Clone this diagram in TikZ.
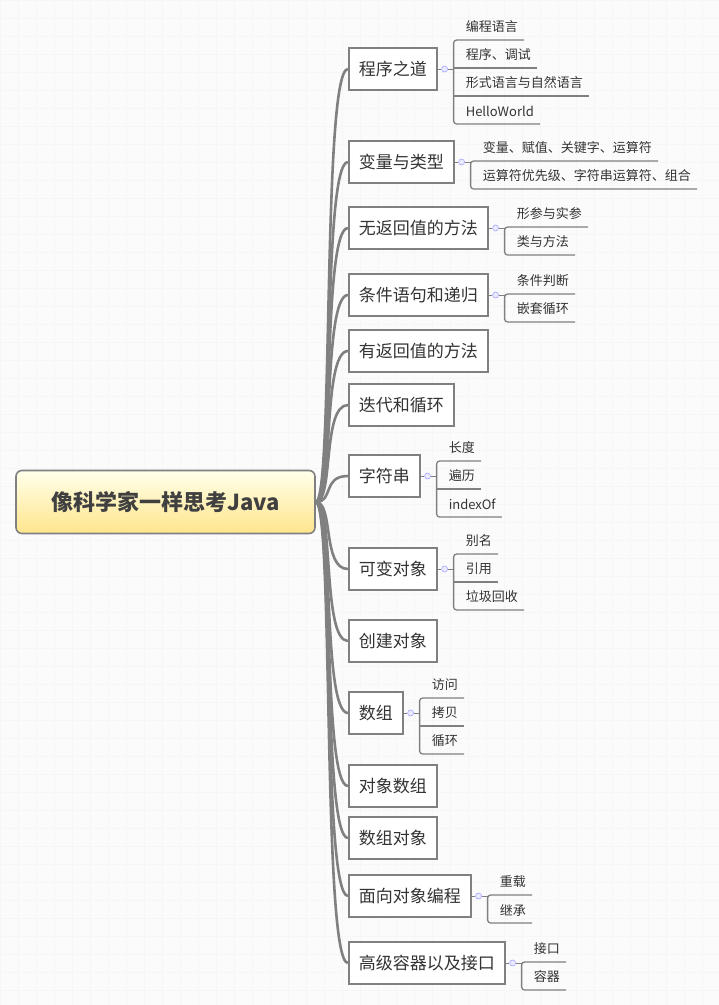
\documentclass[tikz,border=0pt]{standalone}
\usepackage{fontspec}
\setmainfont{Noto Sans CJK SC}
\usetikzlibrary{calc}
\definecolor{lineg}{HTML}{808080}
\definecolor{txt}{HTML}{333333}
\tikzset{
 mainbox/.style={draw=lineg,line width=1.6pt,fill=white,minimum height=42pt,inner xsep=10pt,font=\fontsize{17}{20}\selectfont,text=txt,anchor=west},
 leaf/.style={inner sep=0pt,anchor=west,font=\fontsize{13}{15}\selectfont,text=txt},
 leafline/.style={draw=lineg,line width=1.3pt},
 trunk/.style={draw=lineg,line width=2.6pt},
 dotc/.style={circle,draw=blue!35,fill=blue!8,line width=0.6pt,minimum size=6pt,inner sep=0pt},
}
\newcommand\subs[3]{%
 \node[dotc] (#1-dot) at ($(#1.east)+(7,0)$) {};
 \foreach \t [count=\k] in {#3}{%
   \node[leaf] (#1-\k) at ($(#1.east)+(28,{28*(\k-(#2+1)/2)})$) {\t};
 }
 \foreach \k in {2,...,#2}{%
   \ifnum\k<#2 \draw[leafline] ($(#1-\k.west)+(-12,13)$) -- ($(#1-\k.east)+(6,13)$);\fi
 }
 \draw[leafline,rounded corners=3pt] ($(#1-1.east)+(6,13)$) -- ($(#1-1.west)+(-12,13)$) -- ($(#1-#2.west)+(-12,13)$) -- ($(#1-#2.east)+(6,13)$);
 \draw[leafline,line width=0.8pt] (#1.east) -- (#1-dot.west);
 \draw[leafline,line width=0.8pt] (#1-dot.east) -- ($(#1.east)+(16,0)$);
}
\begin{document}
\begin{tikzpicture}[x=1pt,y=-1pt]
\useasboundingbox (0,0) rectangle (719,1005);
\fill[white!97!gray] (0,0) rectangle (719,1005);
\foreach \i in {0,18,...,1005} \draw[gray!7,line width=0.5pt] (0,\i) -- (719,\i);
\foreach \i in {0,18,...,719} \draw[gray!7,line width=0.5pt] (\i,0) -- (\i,1005);
\node[draw=lineg,line width=1.6pt,rounded corners=6pt,top color=yellow!8,bottom color=yellow!55!orange!45,minimum width=299pt,minimum height=63pt,font=\fontsize{22}{26}\selectfont\bfseries,text=black!75] (root) at (165.5,502) {像科学家一样思考Java};
\node[mainbox] (b1) at (348,69) {程序之道};
\node[mainbox] (b2) at (348,162) {变量与类型};
\node[mainbox] (b3) at (348,228) {无返回值的方法};
\node[mainbox] (b4) at (348,295) {条件语句和递归};
\node[mainbox] (b5) at (348,351) {有返回值的方法};
\node[mainbox] (b6) at (348,405) {迭代和循环};
\node[mainbox] (b7) at (348,476) {字符串};
\node[mainbox] (b8) at (348,569) {可变对象};
\node[mainbox] (b9) at (348,641) {创建对象};
\node[mainbox] (b10) at (348,713) {数组};
\node[mainbox] (b11) at (348,786) {对象数组};
\node[mainbox] (b12) at (348,838) {数组对象};
\node[mainbox] (b13) at (348,896) {面向对象编程};
\node[mainbox] (b14) at (348,963) {高级容器以及接口};
\foreach \b in {b1,b2,b3,b4,b5,b6,b7,b8,b9,b10,b11,b12,b13,b14}
  \draw[trunk] (root.east) .. controls +(18,0) and +(-26,0) .. (\b.west);
\foreach \b/\l in {b1/程序之道,b2/变量与类型,b3/无返回值的方法,b4/条件语句和递归,b5/有返回值的方法,b6/迭代和循环,b7/字符串,b8/可变对象,b9/创建对象,b10/数组,b11/对象数组,b12/数组对象,b13/面向对象编程,b14/高级容器以及接口}
  \node[mainbox] at (\b.west) {\l};
\subs{b1}{4}{编程语言,程序、调试,形式语言与自然语言,HelloWorld}
\subs{b2}{2}{变量、赋值、关键字、运算符,运算符优先级、字符串运算符、组合}
\subs{b3}{2}{形参与实参,类与方法}
\subs{b4}{2}{条件判断,嵌套循环}
\subs{b7}{3}{长度,遍历,indexOf}
\subs{b8}{3}{别名,引用,垃圾回收}
\subs{b10}{3}{访问,拷贝,循环}
\subs{b13}{2}{重载,继承}
\subs{b14}{2}{接口,容器}
\end{tikzpicture}
\end{document}
